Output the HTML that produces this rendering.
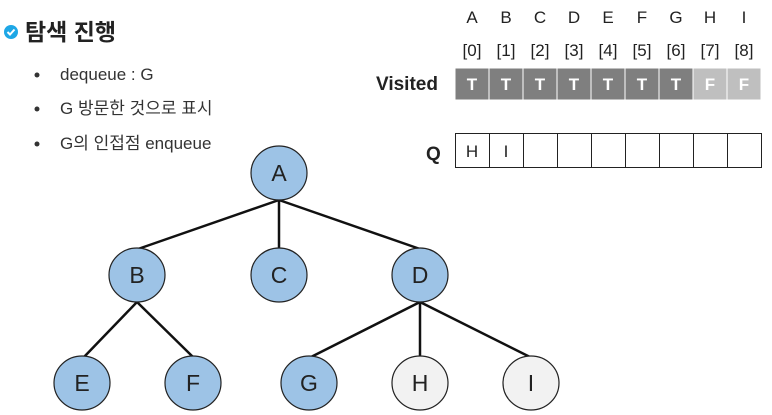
<!DOCTYPE html>
<html><head><meta charset="utf-8"><style>
html,body{margin:0;padding:0;background:#fff;}
body{width:772px;height:415px;position:relative;overflow:hidden;font-family:"Liberation Sans","Noto Sans CJK KR",sans-serif;color:#222;}
</style></head><body>
<svg width="772" height="415" style="position:absolute;left:0;top:0" font-family="Liberation Sans, Noto Sans CJK KR, sans-serif">
<circle cx="11" cy="32" r="7" fill="#1ea7e6"/>
<path d="M7.5 32 L10 34.5 L14.5 29.5" stroke="#fff" stroke-width="2" fill="none"/>
<text x="25" y="40" font-size="23" font-weight="bold" fill="#222">탐색 진행</text>
<g font-size="17" fill="#333">
<circle cx="37" cy="75" r="2.5"/><text x="60" y="80">dequeue : G</text>
<circle cx="37" cy="109" r="2.5"/><text x="60" y="114">G 방문한 것으로 표시</text>
<circle cx="37" cy="144" r="2.5"/><text x="60" y="149">G의 인접점 enqueue</text>
</g>
<g font-size="17" fill="#222" text-anchor="middle">
<text x="472" y="23">A</text><text x="506" y="23">B</text><text x="540" y="23">C</text><text x="574" y="23">D</text><text x="608" y="23">E</text><text x="642" y="23">F</text><text x="676" y="23">G</text><text x="710" y="23">H</text><text x="744" y="23">I</text>
<text x="472" y="56">[0]</text><text x="506" y="56">[1]</text><text x="540" y="56">[2]</text><text x="574" y="56">[3]</text><text x="608" y="56">[4]</text><text x="642" y="56">[5]</text><text x="676" y="56">[6]</text><text x="710" y="56">[7]</text><text x="744" y="56">[8]</text>
</g>
<text x="376" y="90" font-size="19" font-weight="bold" fill="#222">Visited</text>
<g stroke="#fff" stroke-width="1">
<rect x="455" y="68" width="34" height="32" fill="#7f7f7f"/><rect x="489" y="68" width="34" height="32" fill="#7f7f7f"/><rect x="523" y="68" width="34" height="32" fill="#7f7f7f"/><rect x="557" y="68" width="34" height="32" fill="#7f7f7f"/><rect x="591" y="68" width="34" height="32" fill="#7f7f7f"/><rect x="625" y="68" width="34" height="32" fill="#7f7f7f"/><rect x="659" y="68" width="34" height="32" fill="#7f7f7f"/><rect x="693" y="68" width="34" height="32" fill="#bfbfbf"/><rect x="727" y="68" width="34" height="32" fill="#bfbfbf"/>
</g>
<g font-size="17" font-weight="bold" fill="#fff" text-anchor="middle">
<text x="472" y="90">T</text><text x="506" y="90">T</text><text x="540" y="90">T</text><text x="574" y="90">T</text><text x="608" y="90">T</text><text x="642" y="90">T</text><text x="676" y="90">T</text><text x="710" y="90">F</text><text x="744" y="90">F</text>
</g>
<text x="426" y="160" font-size="19" font-weight="bold" fill="#222">Q</text>
<g stroke="#222" stroke-width="1" fill="#fff">
<rect x="455.5" y="133.5" width="34" height="34"/><rect x="489.5" y="133.5" width="34" height="34"/><rect x="523.5" y="133.5" width="34" height="34"/><rect x="557.5" y="133.5" width="34" height="34"/><rect x="591.5" y="133.5" width="34" height="34"/><rect x="625.5" y="133.5" width="34" height="34"/><rect x="659.5" y="133.5" width="34" height="34"/><rect x="693.5" y="133.5" width="34" height="34"/><rect x="727.5" y="133.5" width="34" height="34"/>
</g>
<g font-size="17" fill="#222" text-anchor="middle"><text x="472" y="157">H</text><text x="506" y="157">I</text></g>
<g stroke="#111" stroke-width="2.5">
<line x1="279" y1="200" x2="138" y2="249"/><line x1="279" y1="200" x2="279" y2="249"/><line x1="279" y1="200" x2="420" y2="249"/>
<line x1="137" y1="302" x2="84" y2="357"/><line x1="137" y1="302" x2="193" y2="357"/>
<line x1="420" y1="302" x2="311" y2="357"/><line x1="420" y1="302" x2="420" y2="357"/><line x1="420" y1="302" x2="530" y2="357"/>
</g>
<g stroke="#222" stroke-width="1.2">
<ellipse cx="279" cy="173" rx="28" ry="27" fill="#9dc3e6"/>
<ellipse cx="137" cy="275" rx="28" ry="27" fill="#9dc3e6"/>
<ellipse cx="279" cy="275" rx="28" ry="27" fill="#9dc3e6"/>
<ellipse cx="420" cy="275" rx="28" ry="27" fill="#9dc3e6"/>
<ellipse cx="82" cy="383" rx="28" ry="27" fill="#9dc3e6"/>
<ellipse cx="193" cy="383" rx="28" ry="27" fill="#9dc3e6"/>
<ellipse cx="309" cy="383" rx="28" ry="27" fill="#9dc3e6"/>
<ellipse cx="420" cy="383" rx="28" ry="27" fill="#f2f2f2"/>
<ellipse cx="531" cy="383" rx="28" ry="27" fill="#f2f2f2"/>
</g>
<g font-size="23" fill="#222" text-anchor="middle">
<text x="279" y="181">A</text><text x="137" y="283">B</text><text x="279" y="283">C</text><text x="420" y="283">D</text>
<text x="82" y="391">E</text><text x="193" y="391">F</text><text x="309" y="391">G</text><text x="420" y="391">H</text><text x="531" y="391">I</text>
</g>
</svg>
</body></html>
